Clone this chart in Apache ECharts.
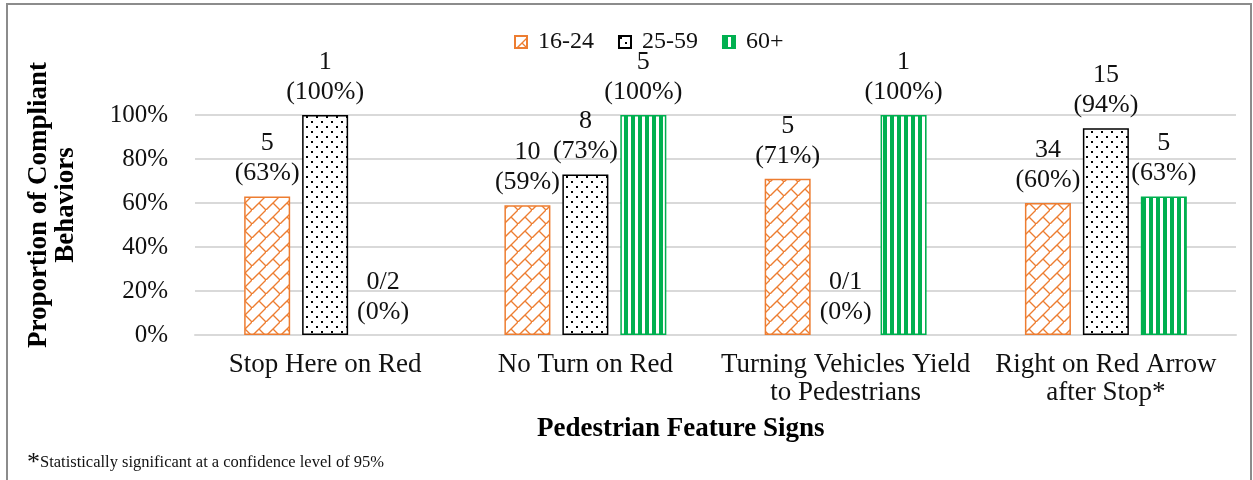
<!DOCTYPE html>
<html>
  <head>
    <meta charset="utf-8" />
    <title>Compliant Behaviors</title>
    <script src="https://cdn.jsdelivr.net/npm/echarts@6/dist/echarts.min.js"></script>
  </head>
  <body style="margin: 0; background: #fff">
    <div id="main" style="width: 1253px; height: 480px"></div>
    <script type="text/javascript">
      // data
      var categories = [
        "Stop Here on Red",
        "No Turn on Red",
        "Turning Vehicles Yield\nto Pedestrians",
        "Right on Red Arrow\nafter Stop*",
      ];
      var groups = ["16-24", "25-59", "60+"];
      var pct1624 = [63, 59, 71, 60];
      var pct2559 = [100, 73, 0, 94];
      var pct60 = [0, 100, 100, 63];
      var n1624 = ["5", "10", "5", "34"];
      var n2559 = ["1", "8", "0/1", "15"];
      var n60 = ["0/2", "5", "1", "5"];
      var yTicks = [0, 20, 40, 60, 80, 100];

      var FONT = "Liberation Serif";

      // hatch tiles like the Excel fill patterns
      function brickTile() {
        var c = document.createElement("canvas");
        c.width = 14;
        c.height = 14;
        var g = c.getContext("2d");
        g.fillStyle = "#fff";
        g.fillRect(0, 0, 14, 14);
        g.strokeStyle = "#ED7D31";
        g.lineWidth = 1.4;
        g.beginPath();
        g.moveTo(0, 14);
        g.lineTo(14, 0);
        g.moveTo(7, 7);
        g.lineTo(14, 14);
        g.stroke();
        return c;
      }
      function dotTile() {
        var c = document.createElement("canvas");
        c.width = 10;
        c.height = 10;
        var g = c.getContext("2d");
        g.fillStyle = "#fff";
        g.fillRect(0, 0, 10, 10);
        g.fillStyle = "#000";
        g.fillRect(1, 1, 2, 2);
        g.fillRect(6, 6, 2, 2);
        return c;
      }
      function stripeTile() {
        var c = document.createElement("canvas");
        c.width = 7;
        c.height = 7;
        var g = c.getContext("2d");
        g.fillStyle = "#fff";
        g.fillRect(0, 0, 7, 7);
        g.fillStyle = "#00B050";
        g.fillRect(1, 0, 4, 7);
        return c;
      }

      function makeSeries(name, values, counts, tile, border) {
        return {
          name: name,
          type: "bar",
          barWidth: 46,
          barGap: "26%",
          // zero bars are drawn without an outline
          data: values.map(function (v) {
            return v === 0 ? { value: v, itemStyle: { borderWidth: 0 } } : v;
          }),
          itemStyle: {
            color: { image: tile, repeat: "repeat" },
            borderColor: border,
            borderWidth: 1.5,
          },
          label: {
            show: true,
            position: "top",
            distance: 8,
            fontFamily: FONT,
            fontSize: 26,
            lineHeight: 30,
            color: "#111",
            formatter: function (p) {
              return counts[p.dataIndex] + "\n(" + p.value + "%)";
            },
          },
        };
      }

      var myChart = echarts.init(document.getElementById("main"));

      var option = {
        animation: false,
        backgroundColor: "#fff",
        textStyle: { fontFamily: FONT },
        legend: {
          data: groups,
          left: 509,
          top: 25,
          itemWidth: 12,
          itemHeight: 12,
          itemGap: 24,
          icon: "rect",
          textStyle: { fontFamily: FONT, fontSize: 24, color: "#111", padding: [0, 0, 0, 6] },
        },
        grid: { left: 195, right: 17, top: 115, bottom: 145 },
        xAxis: {
          type: "category",
          data: categories,
          axisTick: { show: false },
          axisLine: { lineStyle: { color: "#d9d9d9", width: 2 } },
          axisLabel: {
            fontFamily: FONT,
            fontSize: 27,
            lineHeight: 28,
            color: "#111",
            margin: 16,
            interval: 0,
          },
        },
        yAxis: {
          type: "value",
          min: yTicks[0],
          max: yTicks[yTicks.length - 1],
          interval: yTicks[1] - yTicks[0],
          axisLine: { show: false },
          axisTick: { show: false },
          splitLine: { lineStyle: { color: "#d9d9d9", width: 2 } },
          axisLabel: {
            fontFamily: FONT,
            fontSize: 25,
            color: "#111",
            margin: 27,
            formatter: "{value}%",
          },
        },
        graphic: [
          {
            type: "rect",
            shape: { x: 7, y: 4, width: 1244, height: 500 },
            style: { fill: "none", stroke: "#8c8c8c", lineWidth: 2 },
            silent: true,
          },
          {
            type: "text",
            x: 53,
            y: 205,
            rotation: Math.PI / 2,
            style: {
              text: "Proportion of Compliant\nBehaviors",
              font: "bold 27px " + FONT,
              lineHeight: 27,
              fill: "#000",
              align: "center",
              verticalAlign: "middle",
            },
          },
          {
            type: "text",
            x: 537,
            y: 429,
            style: {
              text: "Pedestrian Feature Signs",
              font: "bold 27px " + FONT,
              fill: "#000",
              align: "left",
              verticalAlign: "middle",
            },
          },
          {
            type: "text",
            x: 27,
            y: 463,
            style: {
              text: "{a|*}{b|Statistically significant at a confidence level of 95%}",
              rich: {
                a: { fontFamily: FONT, fontSize: 26, fill: "#111", verticalAlign: "bottom" },
                b: { fontFamily: FONT, fontSize: 16.5, fill: "#111" },
              },
              fill: "#111",
              verticalAlign: "middle",
            },
          },
        ],
        series: [
          makeSeries(groups[0], pct1624, n1624, brickTile(), "#ED7D31"),
          makeSeries(groups[1], pct2559, n2559, dotTile(), "#000"),
          makeSeries(groups[2], pct60, n60, stripeTile(), "#00B050"),
        ],
      };

      myChart.setOption(option);
    </script>
  </body>
</html>
